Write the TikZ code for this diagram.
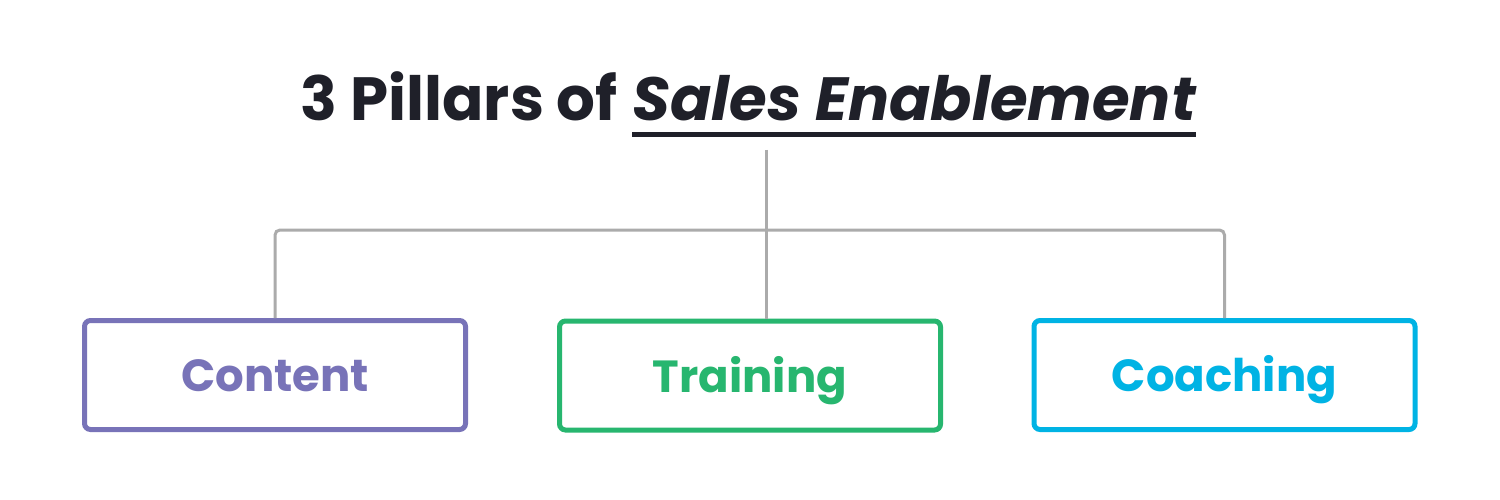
\documentclass[tikz,border=0pt]{standalone}
\usepackage{fontspec}
\setmainfont{Poppins}
\definecolor{cpurple}{HTML}{7873B8}
\definecolor{cgreen}{HTML}{27B66F}
\definecolor{ccyan}{HTML}{00B3E4}
\definecolor{cdark}{HTML}{1F2029}
\definecolor{cgray}{HTML}{ABABAB}
\tikzset{
  pillar/.style={draw=#1, text=#1, line width=5pt, rounded corners=6pt,
    minimum width=381pt, minimum height=109pt, inner sep=0pt,
    font=\fontsize{45}{48}\selectfont\bfseries, text height=33pt, text depth=0pt},
  link/.style={draw=cgray, line width=3pt, rounded corners=5pt},
  titletext/.style={text=cdark, inner sep=0pt, font=\fontsize{61}{65}\selectfont\bfseries}
}
\begin{document}
\begin{tikzpicture}[x=1pt,y=-1pt]
\useasboundingbox[fill=white] (0,0) rectangle (1500,500);
\node[titletext, anchor=base east] (t1) at (618,121) {3 Pillars of};
\node[titletext, anchor=base west, font=\fontsize{61}{65}\selectfont\bfseries\itshape] (t2) at (632,121) {Sales Enablement};
\draw[cdark, line width=5pt] ([yshift=-13.5pt]t2.base west) -- ([yshift=-13.5pt]t2.base east);
\node[pillar=cpurple] (content) at (275,375) {Content};
\node[pillar=cgreen] (training) at (750,375.5) {Training};
\node[pillar=ccyan] (coaching) at (1224.5,375) {Coaching};
\coordinate (top) at (766,150);
\coordinate (j) at (766,230);
\draw[link] (top) -- (j) -- (j |- training.north);
\draw[link] (content.north) |- (j) -| (coaching.north);
\end{tikzpicture}
\end{document}
